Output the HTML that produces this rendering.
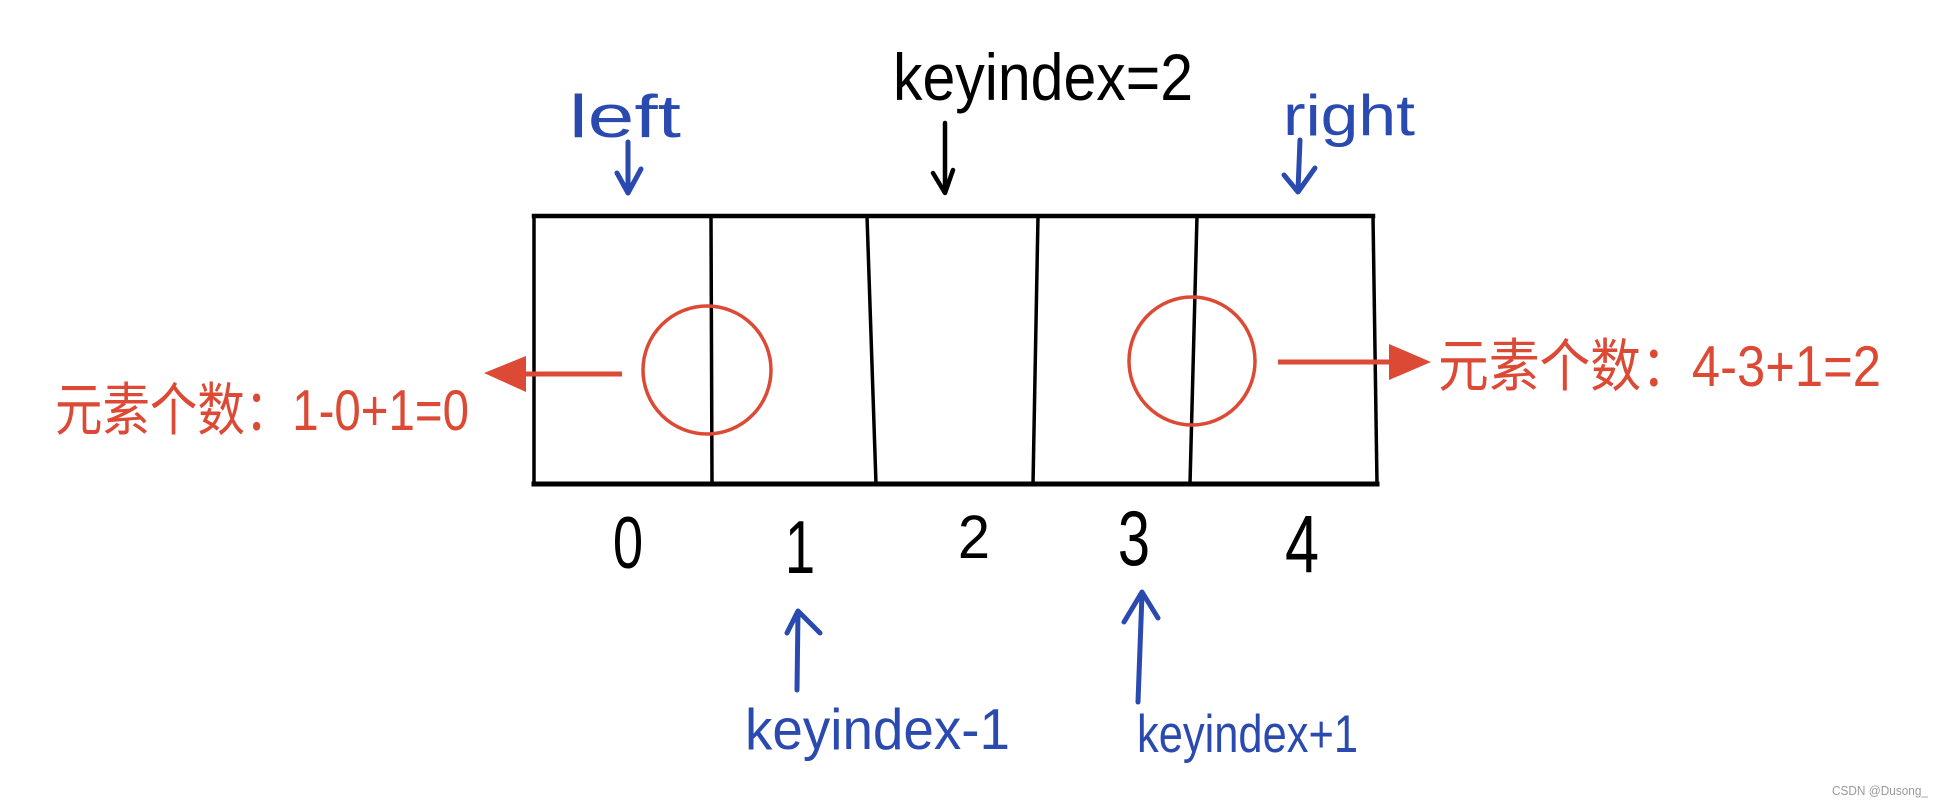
<!DOCTYPE html>
<html>
<head>
<meta charset="utf-8">
<style>
  html,body{margin:0;padding:0;background:#fff;}
  body{width:1945px;height:810px;overflow:hidden;}
  svg{display:block;}
  text{font-family:"Liberation Sans","Noto Sans CJK SC",sans-serif;}
</style>
</head>
<body>
<svg width="1945" height="810" viewBox="0 0 1945 810" xmlns="http://www.w3.org/2000/svg">
  <rect x="0" y="0" width="1945" height="810" fill="#ffffff"/>

  <!-- main array box -->
  <g stroke="#000" fill="none" stroke-linecap="square">
    <line x1="534" y1="216" x2="1373" y2="216" stroke-width="4.5"/>
    <line x1="534" y1="484" x2="1377" y2="484" stroke-width="5"/>
    <line x1="534" y1="216" x2="534" y2="484" stroke-width="3.5"/>
    <line x1="1373" y1="216" x2="1377" y2="484" stroke-width="3.5"/>
    <line x1="711" y1="216" x2="712" y2="484" stroke-width="3.5"/>
    <line x1="867" y1="216" x2="876" y2="484" stroke-width="3.5"/>
    <line x1="1038" y1="216" x2="1033" y2="484" stroke-width="3.5"/>
    <line x1="1197" y1="216" x2="1190" y2="484" stroke-width="3.5"/>
  </g>

  <!-- red circles -->
  <g stroke="#dc4a35" fill="none" stroke-width="3.5">
    <ellipse cx="707" cy="370" rx="64" ry="64"/>
    <ellipse cx="1192" cy="361" rx="63" ry="64"/>
  </g>

  <!-- red arrows -->
  <line x1="622" y1="374" x2="520" y2="374" stroke="#dc4a35" stroke-width="5"/>
  <polygon points="526,356 484,373 526,392" fill="#dc4a35"/>
  <line x1="1278" y1="362" x2="1395" y2="362" stroke="#dc4a35" stroke-width="5"/>
  <polygon points="1389,344 1431,362 1389,380" fill="#dc4a35"/>

  <!-- top labels -->
  <g transform="translate(893,100) scale(1,1.22)">
    <text x="0" y="0" font-size="54" fill="#000" textLength="300" lengthAdjust="spacingAndGlyphs">keyindex=2</text>
  </g>
  <g transform="translate(569,137) scale(1,1.2)">
    <text x="0" y="0" font-size="50" fill="#2a4aaf" textLength="112" lengthAdjust="spacingAndGlyphs">left</text>
  </g>
  <g transform="translate(1283,135) scale(1,1.2)">
    <text x="0" y="0" font-size="48" fill="#2a4aaf" textLength="132" lengthAdjust="spacingAndGlyphs">right</text>
  </g>

  <!-- down arrows -->
  <g fill="none" stroke-linecap="round" stroke-linejoin="round">
    <g stroke="#2a4aaf" stroke-width="5">
      <line x1="628" y1="142" x2="628" y2="192"/>
      <polyline points="617,173 628,193 641,169"/>
      <line x1="1300" y1="140" x2="1298" y2="190"/>
      <polyline points="1284,175 1298,192 1315,168"/>
    </g>
    <g stroke="#000" stroke-width="4.5">
      <line x1="945" y1="123" x2="945" y2="192"/>
      <polyline points="933,173 945,193 953,170"/>
    </g>
  </g>

  <!-- index numbers -->
  <g fill="#000" font-size="68" text-anchor="middle">
    <g transform="translate(628,568) scale(0.8,1.08)"><text x="0" y="0">0</text></g>
    <g transform="translate(800,573) scale(0.8,1.1)"><text x="0" y="0">1</text></g>
    <g transform="translate(974,558) scale(0.85,0.9)"><text x="0" y="0">2</text></g>
    <g transform="translate(1134,565) scale(0.85,1.15)"><text x="0" y="0">3</text></g>
    <g transform="translate(1302,572) scale(0.9,1.2)"><text x="0" y="0">4</text></g>
  </g>

  <!-- up arrows -->
  <g fill="none" stroke="#2a4aaf" stroke-width="5" stroke-linecap="round" stroke-linejoin="round">
    <line x1="798" y1="612" x2="797" y2="690"/>
    <polyline points="787,633 798,611 820,633"/>
    <line x1="1142" y1="594" x2="1138" y2="702"/>
    <polyline points="1124,622 1142,592 1158,618"/>
  </g>

  <!-- bottom labels -->
  <g transform="translate(745,749) scale(1,1.2)">
    <text x="0" y="0" font-size="48" fill="#2a4aaf" textLength="265" lengthAdjust="spacingAndGlyphs">keyindex-1</text>
  </g>
  <g transform="translate(1137,752) scale(1,1.15)">
    <text x="0" y="0" font-size="46" fill="#2a4aaf" textLength="221" lengthAdjust="spacingAndGlyphs">keyindex+1</text>
  </g>

  <!-- red annotations -->
  <g transform="translate(55,430) scale(1,1.3)">
    <text x="0" y="0" font-size="44" fill="#dc4a35" textLength="414" lengthAdjust="spacingAndGlyphs">元素个数：1-0+1=0</text>
  </g>
  <g transform="translate(1438,386) scale(1,1.3)">
    <text x="0" y="0" font-size="44" fill="#dc4a35" textLength="443" lengthAdjust="spacingAndGlyphs">元素个数：4-3+1=2</text>
  </g>

  <!-- watermark -->
  <text x="1832" y="795" font-size="12.5" fill="#9a9a9a" textLength="96" lengthAdjust="spacingAndGlyphs">CSDN @Dusong_</text>
</svg>
</body>
</html>
